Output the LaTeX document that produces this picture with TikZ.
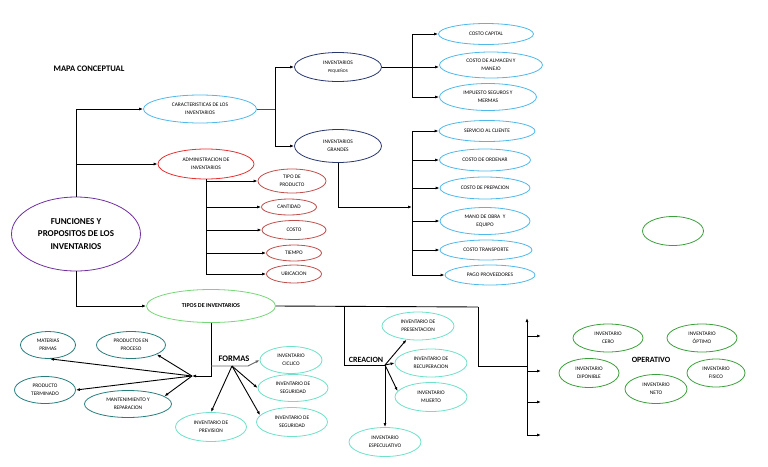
\documentclass[tikz,border=0pt]{standalone}
\usepackage{fontspec}
\setmainfont{Carlito}
\usetikzlibrary{shapes.geometric,arrows.meta}
\definecolor{cblue}{RGB}{80,185,235}
\definecolor{cred}{RGB}{230,50,50}
\definecolor{cmaroon}{RGB}{192,80,77}
\definecolor{cnavy}{RGB}{40,55,110}
\definecolor{cpurple}{RGB}{112,48,160}
\definecolor{clgreen}{RGB}{120,215,120}
\definecolor{cteal}{RGB}{40,125,125}
\definecolor{cturq}{RGB}{110,225,200}
\definecolor{cgreen}{RGB}{60,160,60}
\tikzset{
  ell/.style={ellipse, draw, inner sep=0pt, align=center, line width=0.8pt,
    font=\fontsize{5.4}{8.5}\selectfont},
  arr/.style={-{Latex[length=4pt,width=3pt]}, line width=0.9pt},
  ln/.style={line width=0.9pt},
  lbl/.style={font=\fontsize{8}{9}\selectfont\bfseries, inner sep=0pt},
}
\begin{document}
\begin{tikzpicture}[x=1pt,y=-1pt]
\useasboundingbox (0,0) rectangle (768,466);
\fill[white] (0,0) rectangle (768,466);

\node[lbl, font=\fontsize{8.5}{9}\selectfont\bfseries] (title) at (89,69) {MAPA CONCEPTUAL};

% main
\node[ell, draw=cpurple, minimum width=129pt, minimum height=74pt,
  font=\fontsize{9}{12.5}\selectfont\bfseries] (fun) at (76,234)
  {FUNCIONES Y\\PROPOSITOS DE LOS\\INVENTARIOS};
\node[ell, draw=cblue, minimum width=113pt, minimum height=28pt] (car) at (200,109) {CARACTERISTICAS DE LOS\\INVENTARIOS};
\node[ell, draw=cred, minimum width=96pt, minimum height=30pt] (adm) at (206,164) {ADMINISTRACION DE\\INVENTARIOS};
\node[ell, draw=clgreen, minimum width=129pt, minimum height=33pt,
  font=\fontsize{6}{7}\selectfont\bfseries] (tip) at (211,306) {TIPOS DE INVENTARIOS};

% inventarios pequenos / grandes
\node[ell, draw=cnavy, minimum width=87pt, minimum height=29pt] (peq) at (338,67) {INVENTARIOS\\{\fontsize{4.3}{5}\selectfont PEQUEÑOS}};
\node[ell, draw=cnavy, minimum width=87pt, minimum height=33pt] (gra) at (338,146) {INVENTARIOS\\GRANDES};

\node[ell, draw=cblue, minimum width=95pt, minimum height=21pt] (cap) at (486,34) {COSTO CAPITAL};
\node[ell, draw=cblue, minimum width=103pt, minimum height=26pt] (alm) at (491,65) {COSTO DE ALMACEN Y\\MANEJO};
\node[ell, draw=cblue, minimum width=97pt, minimum height=27pt] (imp) at (488,97) {IMPUESTO SEGUROS Y\\MERMAS};

\node[ell, draw=cblue, minimum width=96pt, minimum height=21pt] (ser) at (487,131) {SERVICIO AL CLIENTE};
\node[ell, draw=cblue, minimum width=91pt, minimum height=22pt] (ord) at (485,160) {COSTO DE ORDENAR};
\node[ell, draw=cblue, minimum width=90pt, minimum height=22pt] (pre) at (485,188) {COSTO DE PREPACION};
\node[ell, draw=cblue, minimum width=90pt, minimum height=27pt] (man) at (485,221) {MANO DE OBRA~~Y\\EQUIPO};
\node[ell, draw=cblue, minimum width=92pt, minimum height=20pt] (tra) at (486,250) {COSTO TRANSPORTE};
\node[ell, draw=cblue, minimum width=90pt, minimum height=20pt] (pag) at (490,275) {PAGO PROVEEDORES};

% administracion children
\node[ell, draw=cmaroon, minimum width=68pt, minimum height=24pt] (tpr) at (292,181) {TIPO DE\\PRODUCTO};
\node[ell, draw=cmaroon, minimum width=55pt, minimum height=16pt] (can) at (289,207) {CANTIDAD};
\node[ell, draw=cmaroon, minimum width=64pt, minimum height=19pt] (cos) at (294,230) {COSTO};
\node[ell, draw=cmaroon, minimum width=55pt, minimum height=16pt] (tie) at (294,253) {TIEMPO};
\node[ell, draw=cmaroon, minimum width=55pt, minimum height=18pt] (ubi) at (294,274) {UBICACION};

% tipos children (left)
\node[ell, draw=cteal, minimum width=55pt, minimum height=27pt] (mat) at (48,345) {MATERIAS\\PRIMAS};
\node[ell, draw=cteal, minimum width=69pt, minimum height=27pt] (pro) at (131,345) {PRODUCTOS EN\\PROCESO};
\node[ell, draw=cteal, minimum width=61pt, minimum height=27pt] (ter) at (45,390) {PRODUCTO\\TERMINADO};
\node[ell, draw=cteal, minimum width=87pt, minimum height=27pt] (mnt) at (128,404) {MANTENIMIENTO Y\\REPARACION};

% formas
\node[ell, draw=cturq, minimum width=62pt, minimum height=27pt] (cic) at (291,360) {INVENTARIO\\CICLICO};
\node[ell, draw=cturq, minimum width=70pt, minimum height=27pt] (sg1) at (293,388) {INVENTARIO DE\\SEGURIDAD};
\node[ell, draw=cturq, minimum width=71pt, minimum height=29pt] (sg2) at (292,422) {INVENTARIO DE\\SEGURIDAD};
\node[ell, draw=cturq, minimum width=71pt, minimum height=29pt] (prv) at (211,427) {INVENTARIO DE\\PREVISION};

% creacion
\node[ell, draw=cturq, minimum width=72pt, minimum height=28pt] (prs) at (418,326) {INVENTARIO DE\\PRESENTACION};
\node[ell, draw=cturq, minimum width=72pt, minimum height=28pt] (rec) at (431,363) {INVENTARIO DE\\RECUPERACION};
\node[ell, draw=cturq, minimum width=72pt, minimum height=29pt] (mue) at (431,397) {INVENTARIO\\MUERTO};
\node[ell, draw=cturq, minimum width=72pt, minimum height=29pt] (esp) at (385,442) {INVENTARIO\\ESPECULATIVO};

% operativo
\node[ell, draw=cgreen, minimum width=70pt, minimum height=28pt] (cer) at (608,338) {INVENTARIO\\CERO};
\node[ell, draw=cgreen, minimum width=70pt, minimum height=28pt] (opt) at (702,338) {INVENTARIO\\ÓPTIMO};
\node[ell, draw=cgreen, minimum width=60pt, minimum height=29pt] (dis) at (589,373) {INVENTARIO\\DIPONIBLE};
\node[ell, draw=cgreen, minimum width=62pt, minimum height=29pt] (net) at (656,389) {INVENTARIO\\NETO};
\node[ell, draw=cgreen, minimum width=58pt, minimum height=28pt] (fis) at (716,373) {INVENTARIO\\FISICO};
\node[ell, draw=cgreen, minimum width=61pt, minimum height=29pt] (emp) at (673,231) {};

% labels
\node[lbl, font=\fontsize{8.5}{9}\selectfont\bfseries] (formas) at (234,359) {FORMAS};
\node[lbl] (creacion) at (366,360) {CREACION};
\node[lbl] (operativo) at (651,360) {OPERATIVO};

% ---- connectors ----
\draw[arr] (fun.north) |- (car.west);
\draw[arr] (fun.north |- adm.west) -- (adm.west);
\draw[arr] (fun.south) |- (tip.west);

\coordinate (c1) at (275,109);
\draw[ln, black!70] (car.east) -- (c1);
\draw[arr] (c1) |- (peq.west);
\draw[arr] (c1) |- (gra.west);

\coordinate (p1) at (412,67);
\draw[arr] (peq.east) -- (peq.east -| alm.west);
\draw[arr] (p1) |- (cap.west);
\draw[arr] (p1) |- (imp.west);

\coordinate (g1) at (412,207);
\draw[arr] (gra.south) |- (g1);
\draw[ln] (g1 |- ser.west) -- (g1 |- pag.west);
\foreach \n in {ser,ord,pre,man,tra,pag}
  \draw[arr] (g1 |- \n.west) -- (\n.west);

\draw[ln] (adm.south) -- (adm.south |- ubi.west);
\foreach \n in {tpr,can,cos,tie,ubi}
  \draw[arr] (adm.south |- \n.west) -- (\n.west);

% tipos -> left fan
\coordinate (fl) at (192,376);
\draw[arr] (tip.south) |- (fl);
\draw[arr] (fl) -- (mat.-82);
\draw[arr] (fl) -- (pro.-20);
\draw[arr] (fl) -- (ter.east);
\draw[arr] (fl) -- (mnt.12);

% formas
\coordinate (fo) at (232,366);
\coordinate (fk) at (248,366);
\draw[arr, black!60] (tip.south |- fo) -- (fk) -- (cic.west);
\draw[arr] (fo) -- (sg1.west);
\draw[arr] (fo) -- (sg2.168);
\draw[arr] (fo) -- (prv.north);

% creacion
\coordinate (r0) at (478,307);
\coordinate (cr0) at (344,307);
\coordinate (cf) at (385,365);
\draw[ln] (tip.east) -- (r0);
\draw[ln] (cr0) |- (cf);
\draw[arr] (cf) -- (prs);
\draw[arr] (cf) -- (rec.west);
\draw[arr] (cf) -- (mue.170);
\draw[arr] (cf) -- (esp.north);

% operativo connector
\coordinate (v0) at (527,366);
\coordinate (vt) at (527,318);
\coordinate (vb) at (527,435);
\draw[ln] (r0) |- (v0);
\draw[arr] (vb) -- (vt);
\coordinate (a1) at (527,336); \coordinate (b1) at (541,336);
\coordinate (a2) at (527,371); \coordinate (b2) at (541,371);
\coordinate (a3) at (527,402); \coordinate (b3) at (541,402);
\coordinate (b4) at (541,435);
\draw[arr] (a1) -- (b1);
\draw[arr] (a2) -- (b2);
\draw[arr] (a3) -- (b3);
\draw[arr] (vb) -- (b4);
\end{tikzpicture}
\end{document}
